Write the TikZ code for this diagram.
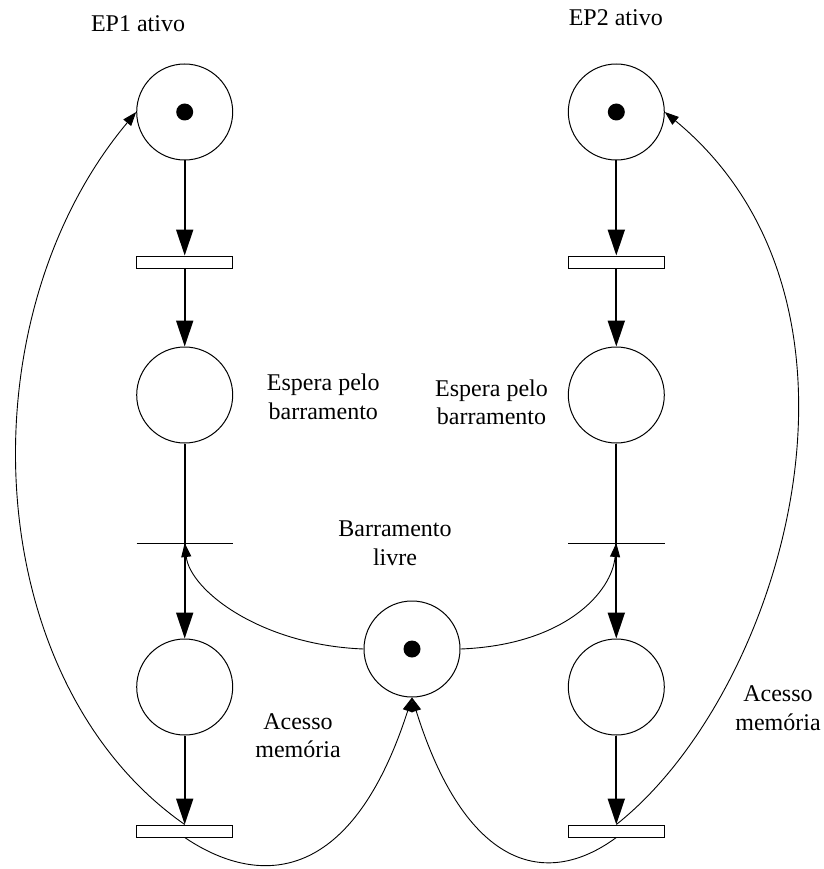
\documentclass[tikz,border=0pt]{standalone}
\usepackage{fontspec}
\setmainfont{Liberation Serif}
\usetikzlibrary{arrows.meta}
\begin{document}
\begin{tikzpicture}[x=1pt,y=-1pt,
  place/.style={draw, circle, line width=1pt, minimum size=96pt, inner sep=0pt},
  token/.style={fill=black, circle, minimum size=17pt, inner sep=0pt},
  barT/.style={draw, rectangle, line width=1pt, minimum width=96pt, minimum height=12pt, inner sep=0pt, fill=white},
  lineT/.style={rectangle, minimum width=96pt, minimum height=0pt, inner sep=0pt},
  bigarc/.style={line width=2pt, -{Triangle[length=26pt,width=17pt]}},
  plainarc/.style={line width=2pt},
  link/.style={line width=0.9pt, -{Triangle[length=14pt,width=10pt]}},
  lbl/.style={font=\fontsize{24}{28.5}\selectfont, inner sep=0pt, anchor=base}
]
\useasboundingbox (0,0) rectangle (823,869);

% processor 1 column
\node[place] (p1) at (184.7,112) {};
\node[token] (k1) at (p1.center) {};
\node[barT]  (b1) at (184.7,262) {};
\node[place] (p2) at (184.7,395) {};
\node[lineT] (t2) at (184.7,543) {};
\node[place] (p3) at (184.7,687) {};
\node[barT]  (b3) at (184.7,831) {};

% processor 2 column
\node[place] (p4) at (616.3,112) {};
\node[token] (k4) at (p4.center) {};
\node[barT]  (b4) at (616.3,262) {};
\node[place] (p5) at (616.3,395) {};
\node[lineT] (t5) at (616.3,543) {};
\node[place] (p6) at (616.3,687) {};
\node[barT]  (b6) at (616.3,831) {};

% shared bus place
\node[place] (pc) at (412,649) {};
\node[token] (kc) at (pc.center) {};

% thin transitions
\draw[line width=1pt] (t2.west) -- (t2.east);
\draw[line width=1pt] (t5.west) -- (t5.east);

% vertical arcs
\draw[bigarc] (p1) -- (b1.north);
\draw[bigarc] (b1.south) -- (p2.north);
\draw[plainarc] (p2.south) -- (t2.center);
\draw[bigarc] (t2.center) -- (p3.north);
\draw[bigarc] (p3.south) -- (b3.north);

\draw[bigarc] (p4) -- (b4.north);
\draw[bigarc] (b4.south) -- (p5.north);
\draw[plainarc] (p5.south) -- (t5.center);
\draw[bigarc] (t5.center) -- (p6.north);
\draw[bigarc] (p6.south) -- (b6.north);

% bus acquisition
\draw[link] (pc.west) .. controls (260,645) and (190,590) .. (t2.center);
\draw[link] (pc.east) .. controls (565,645) and (612,592) .. (t5.center);

% bus release
\draw[link] (b3.south) .. controls (255,885) and (350,890) .. (pc.south);
\draw[link] (b6.south) .. controls (545,890) and (465,867) .. (pc.south);

% return to active state
\draw[link] (b3.north) .. controls (-21,680.6) and (-38,320.2) .. (p1.west);
\draw[link] (b6.north) .. controls (781.6,693.9) and (898.6,305.2) .. (p4.east);

% labels
\node[lbl] (l1) at (138,31.7) {EP1 ativo};
\node[lbl] (l4) at (615.8,26) {EP2 ativo};
\node[lbl] (l2) at (323.3,390.7) {\begin{tabular}[t]{@{}c@{}}Espera pelo\\barramento\end{tabular}};
\node[lbl] (l5) at (491.5,396) {\begin{tabular}[t]{@{}c@{}}Espera pelo\\barramento\end{tabular}};
\node[lbl] (lc) at (395,536.7) {\begin{tabular}[t]{@{}c@{}}Barramento\\livre\end{tabular}};
\node[lbl] (l3) at (298,729) {\begin{tabular}[t]{@{}c@{}}Acesso\\memória\end{tabular}};
\node[lbl] (l6) at (778,701.7) {\begin{tabular}[t]{@{}c@{}}Acesso\\memória\end{tabular}};
\end{tikzpicture}
\end{document}
